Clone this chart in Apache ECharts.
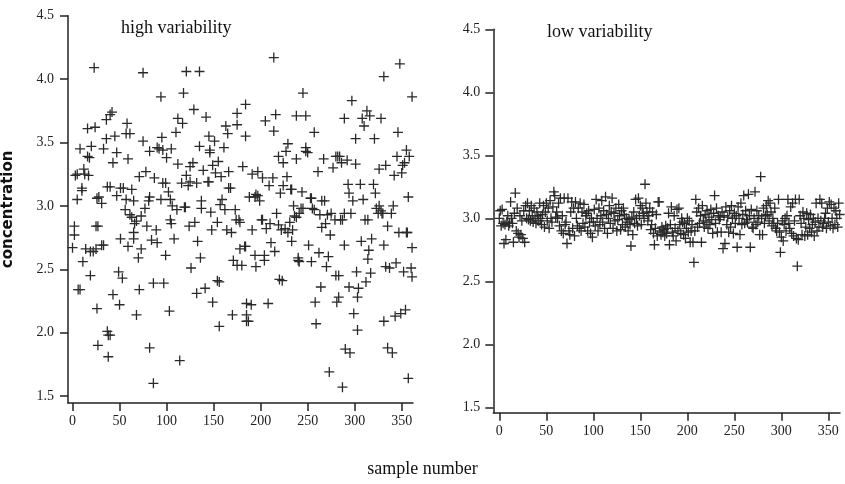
<!DOCTYPE html>
<html>
<head>
<meta charset="utf-8">
<script src="https://cdn.jsdelivr.net/npm/echarts@6/dist/echarts.min.js"></script>
<style>
  html, body { margin: 0; padding: 0; background: #fff; }
  #chart { width: 845px; height: 484px; }
</style>
</head>
<body>
<div id="chart"></div>
<script>
// tick labels
var xTicks = [0, 50, 100, 150, 200, 250, 300, 350];
var yTicks = [1.5, 2.0, 2.5, 3.0, 3.5, 4.0, 4.5];

// high variability panel: [sample number, concentration]
var highPoints = [
  [0,2.67],[2,2.77],[2,2.84],[3,3.24],[5,3.05],[5,3.25],[6,2.34],[8,2.34],[8,3.45],[10,3.14],[10,3.12],[11,2.56],[12,3.29],[13,3.25],[14,2.66],
  [16,3.61],[16,3.39],[17,3.24],[18,3.38],[19,2.45],[19,2.64],[20,3.47],[22,2.64],[23,4.09],[24,3.62],[25,2.66],[25,2.84],[26,3.06],[26,2.19],
  [27,1.90],[27,2.84],[28,3.07],[31,2.69],[31,3.02],[33,2.69],[33,3.45],[36,3.53],[36,3.68],[37,2.01],[38,1.98],[37,3.15],[38,1.81],[40,1.98],
  [40,3.72],[40,3.15],[42,3.74],[43,2.30],[43,3.34],[45,3.55],[47,3.42],[47,3.08],[49,2.48],[50,2.22],[51,3.14],[51,2.74],[53,2.43],[54,3.14],
  [56,2.97],[57,3.57],[57,3.05],[58,3.65],[59,3.37],[59,2.68],[61,3.57],[61,2.93],[63,3.13],[63,2.91],[65,2.79],[65,2.74],[65,3.04],[66,2.86],
  [68,2.14],[68,2.88],[70,2.59],[71,2.34],[71,3.23],[73,2.92],[73,2.66],[75,4.05],[75,3.51],[77,2.98],[78,3.27],[79,2.84],[81,3.04],[82,1.88],
  [82,3.43],[82,3.07],[84,2.73],[86,1.60],[86,2.39],[87,3.22],[89,2.81],[90,2.71],[90,3.46],[92,3.45],[94,3.86],[94,3.05],[95,3.54],[96,3.18],
  [96,3.44],[97,2.39],[99,2.61],[99,3.18],[100,3.38],[102,3.11],[103,2.17],[104,2.89],[104,3.05],[105,3.45],[105,2.86],[106,3.00],[108,2.74],
  [110,3.58],[111,2.97],[112,3.69],[112,3.33],[114,1.78],[116,3.18],[117,3.65],[118,3.89],[119,2.99],[120,2.99],[121,4.06],[121,3.24],[123,3.16],
  [124,2.84],[125,3.19],[125,3.31],[126,2.51],[128,3.34],[129,3.76],[130,2.87],[132,3.18],[132,2.31],[133,2.72],[135,4.06],[135,3.47],[136,2.59],
  [137,2.98],[137,3.04],[139,3.28],[141,2.35],[142,3.70],[144,3.19],[145,3.55],[145,3.19],[146,3.44],[146,3.42],[147,2.95],[148,2.81],[149,2.24],
  [149,3.32],[151,3.51],[152,3.26],[154,2.41],[154,2.87],[155,3.35],[156,2.40],[156,2.05],[157,3.01],[158,3.23],[159,3.05],[161,3.46],[162,2.97],
  [163,3.63],[164,2.81],[165,3.57],[166,3.27],[166,3.14],[168,3.14],[169,2.79],[170,2.14],[171,2.57],[173,2.97],[174,2.89],[175,3.73],[175,3.64],
  [175,2.53],[177,2.89],[178,2.66],[178,2.87],[180,2.53],[181,3.31],[183,2.68],[184,3.80],[184,3.55],[184,2.68],[185,2.09],[185,2.14],[185,2.23],
  [187,2.09],[188,3.07],[190,2.22],[191,3.25],[191,2.81],[194,3.07],[194,2.61],[195,2.52],[195,3.09],[197,3.27],[197,3.08],[199,3.04],[201,2.89],
  [202,2.89],[202,3.22],[204,2.57],[204,2.61],[205,3.67],[206,2.82],[208,2.23],[209,3.16],[210,2.86],[211,2.71],[213,3.22],[214,4.17],[214,3.59],
  [215,2.64],[216,3.72],[217,2.94],[219,3.39],[219,2.85],[220,2.42],[221,3.10],[222,2.81],[223,2.41],[224,3.16],[224,3.34],[226,2.82],[227,3.43],
  [228,3.23],[229,2.79],[229,3.49],[231,2.87],[232,3.13],[233,3.13],[233,2.72],[234,2.81],[235,3.00],[236,2.92],[238,3.71],[238,3.37],[238,2.91],
  [240,2.59],[240,2.57],[241,2.94],[241,2.56],[243,2.98],[244,3.11],[245,3.89],[245,2.98],[248,3.71],[248,3.46],[248,3.43],[250,3.42],[251,2.69],
  [253,3.06],[254,3.06],[254,2.56],[255,2.98],[257,3.58],[257,2.97],[258,2.24],[259,2.07],[261,3.27],[262,2.63],[263,2.93],[264,2.36],[265,2.83],
  [265,3.04],[267,3.37],[268,3.04],[269,2.86],[270,2.52],[271,2.93],[272,2.60],[273,1.69],[274,2.77],[275,2.94],[277,3.30],[279,2.89],[280,3.39],
  [280,2.45],[281,2.24],[282,3.39],[283,2.45],[283,2.28],[284,3.39],[285,2.89],[286,3.34],[287,1.57],[287,2.89],[289,3.69],[289,2.94],[289,2.69],
  [290,1.87],[292,3.36],[293,3.17],[294,2.36],[294,3.10],[295,1.84],[296,2.94],[297,3.83],[298,3.04],[299,2.15],[301,3.53],[301,3.33],[302,2.48],
  [303,2.28],[303,2.02],[304,2.35],[306,3.17],[307,2.72],[308,3.69],[309,3.05],[310,3.63],[311,2.89],[312,2.40],[313,3.75],[314,2.89],[314,2.58],
  [315,2.65],[316,3.71],[317,2.47],[318,2.74],[320,3.17],[321,3.53],[322,3.10],[323,2.98],[325,2.94],[326,3.29],[326,3.00],[328,3.69],[328,2.96],
  [329,2.94],[330,2.94],[331,4.02],[331,2.69],[331,2.09],[333,3.32],[333,2.52],[335,1.88],[335,2.84],[337,2.51],[339,2.94],[340,1.84],[341,3.00],
  [342,3.24],[343,2.13],[344,2.55],[345,3.39],[346,3.58],[347,2.79],[348,4.12],[349,2.15],[350,3.26],[351,3.32],[352,2.48],[353,3.34],[354,2.18],
  [355,3.44],[355,2.79],[356,2.79],[357,3.07],[357,1.64],[358,3.39],[360,2.51],[361,3.86],[361,2.67],[361,2.44]
];

// low variability panel: concentration for sample 0..364
var lowConc = [
  3.00,3.06,2.94,3.07,2.96,2.80,2.95,2.83,2.97,3.02,
  2.94,2.96,3.13,3.00,2.96,2.81,3.04,3.20,2.90,3.08,
  2.88,2.85,3.02,2.87,2.98,2.84,3.06,2.81,3.10,3.00,
  3.12,2.99,3.06,2.98,3.10,3.02,2.97,3.08,3.00,2.96,
  3.05,3.02,2.98,3.12,3.00,2.95,3.03,3.10,2.93,3.05,
  3.12,2.98,3.08,2.92,3.14,3.00,2.97,3.09,3.21,3.18,
  3.01,3.05,3.00,3.12,2.94,3.16,2.90,3.02,2.88,3.16,
  2.95,2.97,2.80,3.16,2.90,2.87,3.05,3.13,2.92,3.08,
  2.86,3.13,3.00,2.94,3.08,2.92,3.12,2.90,3.05,2.96,
  3.11,2.93,3.02,3.04,2.90,3.06,2.97,2.88,3.00,2.85,
  2.97,3.07,2.94,3.15,3.00,2.90,3.08,2.95,3.02,3.14,
  2.97,3.06,2.92,3.17,3.03,2.88,3.00,3.10,2.96,3.05,
  3.16,2.92,3.04,2.98,3.08,2.90,2.99,3.11,3.02,2.91,
  3.06,2.95,3.08,3.03,2.93,3.00,2.97,2.90,2.99,2.95,
  2.78,3.01,2.87,3.05,2.96,3.15,3.00,2.94,3.16,3.02,
  3.10,2.95,3.08,3.04,3.00,3.27,3.12,3.05,2.98,3.02,
  3.08,2.91,2.95,3.05,2.88,2.79,2.92,3.03,2.86,3.13,
  3.13,2.90,2.87,2.93,2.89,2.91,2.86,2.94,2.88,2.92,
  3.04,2.79,2.95,3.09,2.89,2.86,3.02,2.92,2.82,3.07,
  2.90,3.08,2.95,2.88,3.00,2.97,2.87,2.96,2.84,2.92,
  3.00,2.89,2.98,2.81,2.90,2.95,2.81,2.65,2.90,3.15,
  3.05,2.93,3.08,2.96,3.02,2.81,3.10,2.98,2.93,3.03,
  2.97,3.06,2.92,3.01,2.95,3.07,2.99,2.88,3.04,3.18,
  2.96,3.08,2.89,3.02,2.99,3.01,2.89,3.05,2.76,3.02,
  2.80,3.09,2.95,3.01,2.89,3.06,2.93,3.10,3.00,2.88,
  3.04,2.96,3.02,2.77,3.09,3.00,2.87,3.12,2.95,3.03,
  3.18,2.96,3.06,2.99,2.97,3.19,3.02,2.77,3.07,2.93,
  2.92,3.00,3.21,2.95,3.06,2.97,3.02,2.87,3.33,3.00,
  2.87,3.08,2.96,3.02,3.10,3.03,3.14,2.98,3.12,3.05,
  2.94,3.00,2.96,3.08,2.92,2.90,2.96,3.15,2.89,2.73,
  2.85,2.98,2.82,2.95,3.00,2.90,3.02,3.15,2.96,2.92,
  3.09,2.88,3.12,2.86,2.98,3.15,2.84,2.62,2.83,3.15,
  3.02,2.96,2.87,3.05,3.00,2.86,2.93,3.04,2.87,2.99,
  2.92,3.03,2.89,2.95,3.00,2.86,2.97,3.12,2.90,3.00,
  2.93,3.15,2.98,3.12,2.93,2.96,3.00,3.04,2.92,3.08,
  2.97,3.13,2.94,3.11,3.00,2.92,3.08,2.95,3.06,3.00,
  2.93,3.12,3.03,2.96,2.94
];

var serif = "'Liberation Serif', 'Times New Roman', serif";
var plus = 'path://M4.35,0h1.3v4.35h4.35v1.3h-4.35v4.35h-1.3v-4.35h-4.35v-1.3h4.35z';

function xAxisOf(gridIndex, min, max, margin) {
  return {
    gridIndex: gridIndex,
    type: 'value',
    min: min,
    max: max,
    splitLine: { show: false },
    axisLine: { onZero: false, lineStyle: { color: '#222', width: 1.5 } },
    axisTick: { customValues: xTicks, length: 8, lineStyle: { color: '#222', width: 1.5 } },
    axisLabel: {
      customValues: xTicks, margin: margin,
      color: '#222', fontFamily: serif, fontSize: 14
    }
  };
}

function yAxisOf(gridIndex, min, margin) {
  return {
    gridIndex: gridIndex,
    type: 'value',
    min: min,
    max: 4.5,
    splitLine: { show: false },
    axisLine: { show: true, onZero: false, lineStyle: { color: '#222', width: 1.5 } },
    axisTick: { show: true, customValues: yTicks, length: 8, lineStyle: { color: '#222', width: 1.5 } },
    axisLabel: {
      customValues: yTicks, margin: margin,
      color: '#222', fontFamily: serif, fontSize: 14,
      formatter: function (v) { return v.toFixed(1); }
    }
  };
}

var myChart = echarts.init(document.getElementById('chart'));
var option = {
  backgroundColor: '#fff',
  animation: false,
  title: [
    { text: 'high variability', left: 116, top: 14,
      textStyle: { fontFamily: serif, fontWeight: 'normal', fontSize: 18, color: '#111' } },
    { text: 'low variability', left: 542, top: 18,
      textStyle: { fontFamily: serif, fontWeight: 'normal', fontSize: 18, color: '#111' } },
    { text: 'sample number', left: 'center', top: 455,
      textStyle: { fontFamily: serif, fontWeight: 'normal', fontSize: 18, color: '#111' } }
  ],
  grid: [
    { left: 67.7, top: 15.7, width: 345.3, height: 387.3 },
    { left: 493.3, top: 29.3, width: 346.7, height: 383.4 }
  ],
  xAxis: [
    xAxisOf(0, -4.8, 362, 11),
    xAxisOf(1, -6.4, 362.4, 12)
  ],
  yAxis: [
    Object.assign(yAxisOf(0, 1.445, 14), {
      name: 'concentration',
      nameLocation: 'middle',
      nameRotate: 90,
      nameGap: 52,
      nameTextStyle: { fontFamily: "'DejaVu Sans', sans-serif", fontWeight: 'bold', fontSize: 15, color: '#111' }
    }),
    yAxisOf(1, 1.457, 13)
  ],
  series: [
    {
      type: 'scatter', xAxisIndex: 0, yAxisIndex: 0,
      symbol: plus, symbolSize: 10,
      itemStyle: { color: '#2a2a2a', opacity: 1 },
      data: highPoints
    },
    {
      type: 'scatter', xAxisIndex: 1, yAxisIndex: 1,
      symbol: plus, symbolSize: 10,
      itemStyle: { color: '#2a2a2a', opacity: 1 },
      data: lowConc.map(function (v, i) { return [i, v]; })
    }
  ]
};
myChart.setOption(option);
</script>
</body>
</html>
